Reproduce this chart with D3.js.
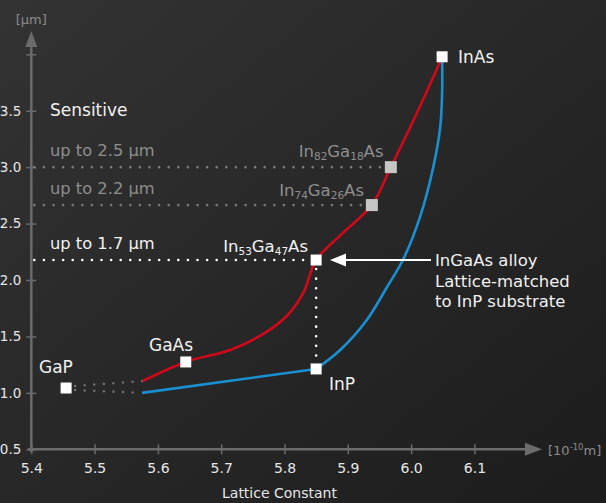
<!DOCTYPE html>
<html>
<head>
<meta charset="utf-8">
<script src="https://cdn.jsdelivr.net/npm/d3@7"></script>
<style>
  body { margin: 0; background: #262626; }
  svg text { font-family: "DejaVu Sans", sans-serif; }
</style>
</head>
<body>
<div class="vis"></div>
<script>
// lattice constant ticks [10^-10 m] and wavelength ticks [um]
const xTicks = [5.4, 5.5, 5.6, 5.7, 5.8, 5.9, 6.0, 6.1];
const yTicks = [0.5, 1.0, 1.5, 2.0, 2.5, 3.0, 3.5, 4.0];
const yLabeled = [0.5, 1.0, 1.5, 2.0, 2.5, 3.0, 3.5];

// InGaAs curve (red) and InP side curve (blue): [lattice, wavelength]
const redCurve = [
  [5.576, 1.105], [5.644, 1.274], [5.714, 1.380], [5.769, 1.531],
  [5.805, 1.690], [5.830, 1.890], [5.850, 2.177], [5.892, 2.416],
  [5.938, 2.664], [5.968, 3.000], [6.009, 3.478], [6.049, 3.974]
];
const blueStraight = [[5.575, 1.000], [5.850, 1.212]];
const blueCurve = [
  [5.850, 1.212], [5.888, 1.380], [5.930, 1.646],
  [5.962, 1.938], [5.987, 2.177], [6.014, 2.558], [6.035, 3.000],
  [6.046, 3.355], [6.049, 3.656], [6.049, 3.974]
];

// compounds
const names = ['GaP', 'GaAs', 'InP', 'In53Ga47As', 'In74Ga26As', 'In82Ga18As', 'InAs'];
const lattice = [5.455, 5.644, 5.850, 5.850, 5.938, 5.968, 6.049];
const wavelength = [1.043, 1.274, 1.212, 2.177, 2.664, 3.000, 3.978];

// sensitivity limits
const limitLabels = ['up to 2.5 μm', 'up to 2.2 μm', 'up to 1.7 μm'];
const limitValues = [3.000, 2.664, 2.177];
const limitEnds = [5.968, 5.938, 5.850];

const W = 606, H = 503;
const svg = d3.select('.vis').append('svg')
  .attr('width', W).attr('height', H);

const defs = svg.append('defs');
const grad = defs.append('linearGradient').attr('id', 'bg')
  .attr('x1', '0').attr('y1', '0').attr('x2', '1').attr('y2', '1');
grad.append('stop').attr('offset', '0%').attr('stop-color', '#333333');
grad.append('stop').attr('offset', '100%').attr('stop-color', '#1c1c1c');
svg.append('rect').attr('width', W).attr('height', H).attr('fill', 'url(#bg)');

const x = d3.scaleLinear().domain([5.4, 6.1]).range([31.3, 474.4]);
const y = d3.scaleLinear().domain([0.5, 4.0]).range([449.3, 54.3]);

const axisColor = '#6b6b6b';
const tickFont = '"Noto Sans", sans-serif';

// x axis
const gx = svg.append('g').attr('transform', `translate(0,${y(0.5)})`)
  .call(d3.axisBottom(x).tickValues(xTicks).tickSize(5).tickFormat(d3.format('.1f')));
gx.select('.domain').remove();
gx.selectAll('.tick line').attr('y1', -5).attr('y2', 5).attr('stroke', axisColor).attr('stroke-width', 1.5);
gx.selectAll('.tick text').attr('y', 14).attr('fill', '#e6e6e6')
  .attr('font-size', 14).attr('font-family', tickFont);
svg.append('line').attr('x1', 28).attr('x2', 527).attr('y1', y(0.5)).attr('y2', y(0.5))
  .attr('stroke', axisColor).attr('stroke-width', 2.5);
svg.append('path').attr('d', `M525,${y(0.5) - 6.5}L542,${y(0.5)}L525,${y(0.5) + 6.5}Z`).attr('fill', axisColor);

// y axis
const gy = svg.append('g').attr('transform', `translate(${x(5.4)},0)`)
  .call(d3.axisLeft(y).tickValues(yTicks).tickSize(5)
    .tickFormat(d => yLabeled.includes(d) ? d3.format('.1f')(d) : ''));
gy.select('.domain').remove();
gy.selectAll('.tick line').attr('x1', -5).attr('x2', 5).attr('stroke', axisColor).attr('stroke-width', 1.5);
gy.selectAll('.tick text').attr('x', -10).attr('fill', '#e6e6e6')
  .attr('font-size', 13.5).attr('font-family', tickFont);
svg.append('line').attr('x1', x(5.4)).attr('x2', x(5.4)).attr('y1', y(0.5) + 3).attr('y2', 45)
  .attr('stroke', axisColor).attr('stroke-width', 2.5);
svg.append('path').attr('d', `M${x(5.4) - 6},47L${x(5.4)},31L${x(5.4) + 6},47Z`).attr('fill', axisColor);

svg.append('text').attr('x', x(5.4)).attr('y', 24).attr('text-anchor', 'middle')
  .attr('fill', '#8c8c8c').attr('font-size', 13).text('[μm]');
const unit = svg.append('text').attr('x', 548).attr('y', 455).attr('fill', '#8c8c8c').attr('font-size', 13);
unit.append('tspan').text('[10');
unit.append('tspan').attr('font-size', 8.5).attr('dy', -5).text('-10');
unit.append('tspan').attr('dy', 5).text('m]');
svg.append('text').attr('x', 222).attr('y', 498).attr('fill', '#e6e6e6')
  .attr('font-size', 14).text('Lattice Constant');

// dotted guide lines
const dotted = (x1, y1, x2, y2, color) => svg.append('line')
  .attr('x1', x1).attr('y1', y1).attr('x2', x2).attr('y2', y2)
  .attr('stroke', color).attr('stroke-width', 2.6).attr('stroke-linecap', 'round')
  .attr('stroke-dasharray', '0 9.6');

limitValues.forEach((v, i) => {
  const c = i < 2 ? '#7a7a7a' : '#ffffff';
  dotted(x(5.4) + 3, y(v), x(limitEnds[i]) - 6, y(v), c);
  svg.append('text').attr('x', 50).attr('y', y(v) - 11)
    .attr('fill', i < 2 ? '#8e8e8e' : '#f2f2f2')
    .attr('font-size', 16.3).text(limitLabels[i]);
});
dotted(x(5.85), y(2.177) + 9, x(5.85), y(1.212) - 6, '#ffffff');
dotted(x(lattice[0]) + 9, y(wavelength[0]) - 2, x(redCurve[0][0]), y(redCurve[0][1]), '#6e6e6e');
dotted(x(lattice[0]) + 9, y(wavelength[0]) + 2, x(blueStraight[0][0]), y(blueStraight[0][1]), '#6e6e6e');

svg.append('text').attr('x', 50).attr('y', 116).attr('fill', '#f2f2f2')
  .attr('font-size', 17).text('Sensitive');

// curves
const line = d3.line().x(d => x(d[0])).y(d => y(d[1])).curve(d3.curveCatmullRom.alpha(0.5));
const straight = d3.line().x(d => x(d[0])).y(d => y(d[1]));
svg.append('path').datum(blueStraight).attr('d', straight)
  .attr('fill', 'none').attr('stroke', '#1a8fd2').attr('stroke-width', 2.6);
svg.append('path').datum(blueCurve).attr('d', line)
  .attr('fill', 'none').attr('stroke', '#1a8fd2').attr('stroke-width', 2.6);
svg.append('path').datum(redCurve).attr('d', line)
  .attr('fill', 'none').attr('stroke', '#d0081a').attr('stroke-width', 2.6);

// arrow to lattice-matched point
const ay = y(2.177);
svg.append('line').attr('x1', 431).attr('x2', 344).attr('y1', ay).attr('y2', ay)
  .attr('stroke', '#ffffff').attr('stroke-width', 2);
svg.append('path').attr('d', `M346,${ay - 6.5}L330,${ay}L346,${ay + 6.5}Z`).attr('fill', '#ffffff');
['InGaAs alloy', 'Lattice-matched', 'to InP substrate'].forEach((t, i) => {
  svg.append('text').attr('x', 435).attr('y', 266 + i * 20.6).attr('fill', '#f2f2f2')
    .attr('font-size', 16.5).text(t);
});

// compound markers
const gray = ['In74Ga26As', 'In82Ga18As'];
names.forEach((n, i) => {
  const s = gray.includes(n) ? 12 : 11;
  svg.append('rect').attr('x', x(lattice[i]) - s / 2).attr('y', y(wavelength[i]) - s / 2)
    .attr('width', s).attr('height', s)
    .attr('fill', gray.includes(n) ? '#c6c6c6' : '#ffffff');
});

// simple labels
const simple = { GaP: [39, 373], GaAs: [149, 351], InP: [329, 390], InAs: [458, 63] };
Object.entries(simple).forEach(([n, p]) => {
  svg.append('text').attr('x', p[0]).attr('y', p[1]).attr('fill', '#f2f2f2')
    .attr('font-size', 17).text(n);
});

// alloy labels with subscripts
const alloy = [
  ['In53Ga47As', 308, 252, '#f2f2f2'],
  ['In74Ga26As', 364, 196, '#8e8e8e'],
  ['In82Ga18As', 383.5, 157, '#8e8e8e']
];
alloy.forEach(([n, px, py, c]) => {
  const m = n.match(/In(\d+)Ga(\d+)As/);
  const t = svg.append('text').attr('x', px).attr('y', py).attr('text-anchor', 'end')
    .attr('fill', c).attr('font-size', 16.5);
  t.append('tspan').text('In');
  t.append('tspan').attr('font-size', 10.5).attr('dy', 3).text(m[1]);
  t.append('tspan').attr('dy', -3).text('Ga');
  t.append('tspan').attr('font-size', 10.5).attr('dy', 3).text(m[2]);
  t.append('tspan').attr('dy', -3).text('As');
});
</script>
</body>
</html>
